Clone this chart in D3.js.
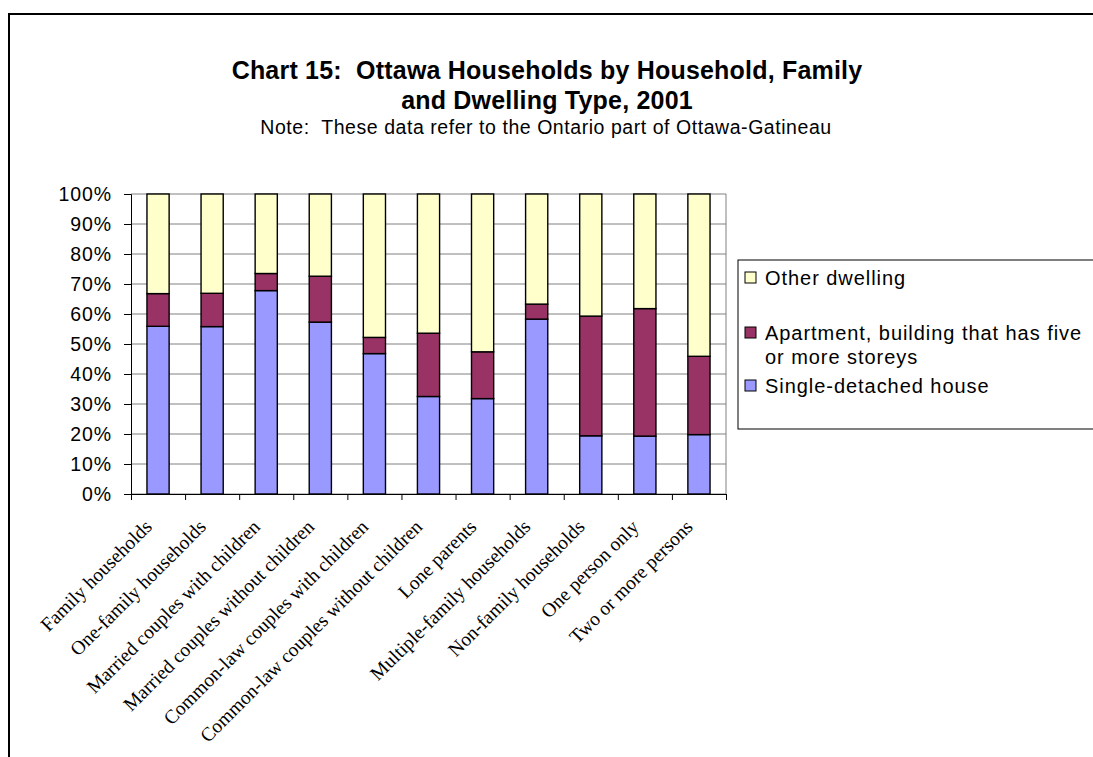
<!DOCTYPE html>
<html>
<head>
<meta charset="utf-8">
<script src="https://cdn.jsdelivr.net/npm/d3@7"></script>
<style>
  body { margin: 0; background: #fff; }
  svg { display: block; }
  text { white-space: pre; }
</style>
</head>
<body>
<div id="chart"></div>
<script>
// categories along the x axis
const categories = [
  'Family households',
  'One-family households',
  'Married couples with children',
  'Married couples without children',
  'Common-law couples with children',
  'Common-law couples without children',
  'Lone parents',
  'Multiple-family households',
  'Non-family households',
  'One person only',
  'Two or more persons'
];

// share of households (%) by dwelling type
const singleDetached = [55.9, 55.8, 67.8, 57.3, 46.8, 32.5, 31.8, 58.3, 19.4, 19.3, 19.8];
const apartmentFive = [10.9, 11.1, 5.7, 15.3, 5.4, 21.1, 15.6, 5.0, 39.9, 42.5, 26.1];
const otherDwelling = [33.2, 33.1, 26.5, 27.4, 47.8, 46.4, 52.6, 36.7, 40.7, 38.2, 54.1];

const yTicks = [0, 10, 20, 30, 40, 50, 60, 70, 80, 90, 100];

const seriesNames = ['Single-detached house', 'Apartment, building that has five or more storeys', 'Other dwelling'];
const seriesColors = ['#9999ff', '#993366', '#ffffcc'];

const W = 1093, H = 757;
const plot = { left: 131, right: 726, top: 194, bottom: 494 };

const svg = d3.select('#chart').append('svg')
  .attr('width', W)
  .attr('height', H)
  .style('font-family', 'Arial, "Liberation Sans", sans-serif');

// outer frame
svg.append('rect')
  .attr('x', 9).attr('y', 14)
  .attr('width', W + 20).attr('height', H + 20)
  .attr('fill', 'none')
  .attr('stroke', '#000')
  .attr('stroke-width', 2);

// titles
svg.append('text')
  .attr('x', 547).attr('y', 79)
  .attr('text-anchor', 'middle')
  .style('font-size', '25px')
  .style('font-weight', 'bold')
  .style('letter-spacing', '0.2px')
  .text('Chart 15:  Ottawa Households by Household, Family');
svg.append('text')
  .attr('x', 547).attr('y', 109)
  .attr('text-anchor', 'middle')
  .style('font-size', '25px')
  .style('font-weight', 'bold')
  .style('letter-spacing', '0.2px')
  .text('and Dwelling Type, 2001');
svg.append('text')
  .attr('x', 546).attr('y', 134)
  .attr('text-anchor', 'middle')
  .style('font-size', '19.5px')
  .style('letter-spacing', '0.55px')
  .text('Note:  These data refer to the Ontario part of Ottawa-Gatineau');

const x = d3.scaleBand()
  .domain(categories)
  .range([plot.left, plot.right])
  .paddingInner(0.59)
  .paddingOuter(0.295);

const y = d3.scaleLinear()
  .domain([0, 100])
  .range([plot.bottom, plot.top]);

// gridlines
svg.append('g')
  .selectAll('line')
  .data(yTicks)
  .enter()
  .append('line')
  .attr('x1', plot.left).attr('x2', plot.right)
  .attr('y1', d => y(d)).attr('y2', d => y(d))
  .attr('stroke', '#808080')
  .attr('stroke-width', 1);

// right border of the plot
svg.append('line')
  .attr('x1', plot.right).attr('x2', plot.right)
  .attr('y1', plot.top).attr('y2', plot.bottom)
  .attr('stroke', '#808080');

// stacked bars
const table = categories.map((c, i) => ({
  cat: c,
  s0: singleDetached[i],
  s1: apartmentFive[i],
  s2: otherDwelling[i]
}));
const stack = d3.stack().keys(['s0', 's1', 's2'])(table);

svg.append('g')
  .selectAll('g')
  .data(stack)
  .enter()
  .append('g')
  .attr('fill', (d, i) => seriesColors[i])
  .selectAll('rect')
  .data(d => d)
  .enter()
  .append('rect')
  .attr('x', d => x(d.data.cat))
  .attr('y', d => y(d[1]))
  .attr('width', x.bandwidth())
  .attr('height', d => y(d[0]) - y(d[1]))
  .attr('stroke', '#000')
  .attr('stroke-width', 1.4);

// y axis
const yAxis = svg.append('g')
  .attr('transform', `translate(${plot.left},0)`)
  .call(d3.axisLeft(y).tickValues(yTicks).tickSize(7).tickPadding(12).tickFormat(d => d + '%'));
yAxis.selectAll('text')
  .style('font-size', '19.5px')
  .style('letter-spacing', '0.9px')
  .style('font-family', 'Arial, "Liberation Sans", sans-serif')
  .attr('fill', '#000');
yAxis.selectAll('line').attr('stroke', '#000');
yAxis.select('.domain').attr('stroke', '#000');

// x axis: ticks between categories
const xEdges = d3.scaleLinear().domain([0, categories.length]).range([plot.left, plot.right]);
const xAxis = svg.append('g')
  .attr('transform', `translate(0,${plot.bottom})`)
  .call(d3.axisBottom(xEdges).ticks(categories.length).tickSize(6).tickFormat(''));
xAxis.selectAll('line').attr('stroke', '#000');
xAxis.select('.domain').attr('stroke', '#000');

// rotated category labels
svg.append('g')
  .selectAll('text')
  .data(categories)
  .enter()
  .append('text')
  .attr('transform', d => `translate(${x(d) + x.bandwidth() / 2 - 5},${plot.bottom + 34}) rotate(-45)`)
  .attr('text-anchor', 'end')
  .style('font-family', '"Times New Roman", "Liberation Serif", serif')
  .style('font-size', '19.5px')
  .text(d => d);

// legend
const legend = svg.append('g');
legend.append('rect')
  .attr('x', 738).attr('y', 260)
  .attr('width', 400).attr('height', 169)
  .attr('fill', '#fff')
  .attr('stroke', '#000')
  .attr('stroke-width', 1);

const legendItems = [
  { color: seriesColors[2], y: 272, lines: ['Other dwelling'] },
  { color: seriesColors[1], y: 327, lines: ['Apartment, building that has five', 'or more storeys'] },
  { color: seriesColors[0], y: 380, lines: ['Single-detached house'] }
];
legendItems.forEach(item => {
  legend.append('rect')
    .attr('x', 745).attr('y', item.y)
    .attr('width', 11).attr('height', 11)
    .attr('fill', item.color)
    .attr('stroke', '#000');
  item.lines.forEach((ln, j) => {
    legend.append('text')
      .attr('x', 765).attr('y', item.y + 13 + j * 24)
      .style('font-size', '20px')
      .style('letter-spacing', '0.95px')
      .text(ln);
  });
});
</script>
</body>
</html>
